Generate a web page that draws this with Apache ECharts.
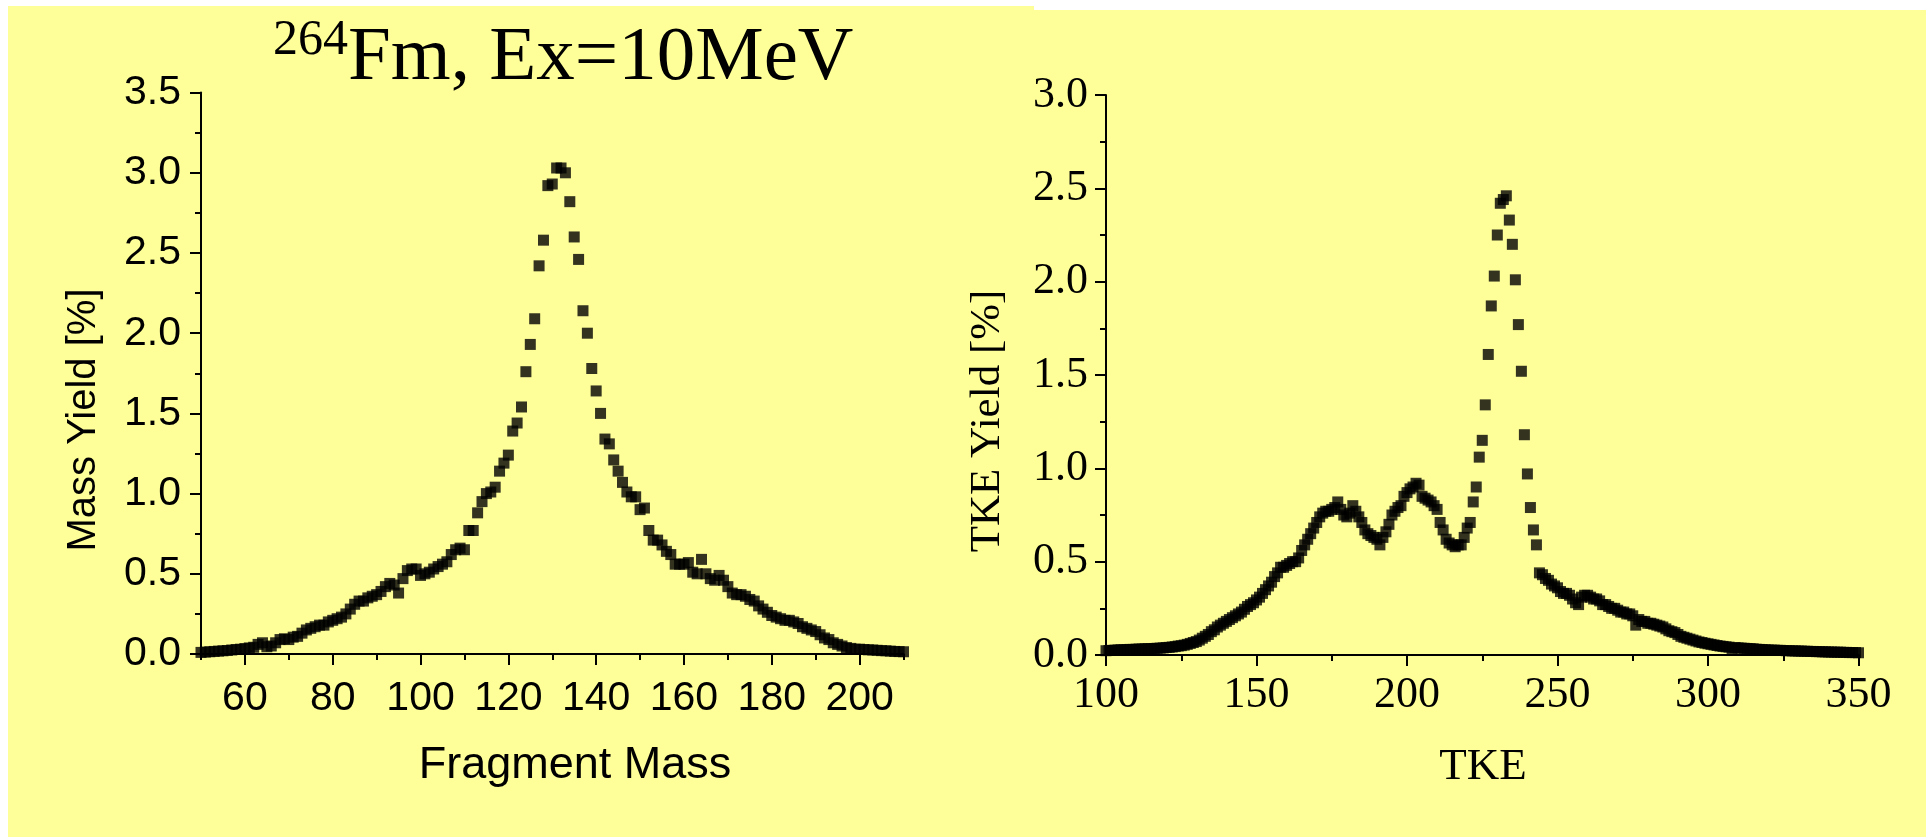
<!DOCTYPE html>
<html><head><meta charset="utf-8">
<script src="https://cdn.jsdelivr.net/npm/echarts@6/dist/echarts.min.js"></script>
<style>html,body{margin:0;padding:0;background:#fff}#c{width:1932px;height:840px}</style>
</head><body><div id="c"></div>
<script>
// ---- data ----
const massStart = 50; // fragment mass of first point, one point per mass unit
const massYield = [
 0.010,0.012,0.014,0.016,0.018,0.020,0.022,0.025,0.028,0.030,   // 50-59
 0.034,0.038,0.042,0.060,0.070,0.045,0.050,0.070,0.090,0.095,   // 60-69
 0.090,0.105,0.110,0.130,0.150,0.160,0.170,0.180,0.180,0.200,   // 70-79
 0.210,0.220,0.230,0.250,0.280,0.310,0.330,0.330,0.350,0.360,   // 80-89
 0.370,0.390,0.420,0.440,0.430,0.380,0.470,0.520,0.530,0.530,   // 90-99
 0.490,0.500,0.510,0.530,0.545,0.560,0.575,0.620,0.650,0.660,   // 100-109
 0.650,0.770,0.770,0.880,0.950,1.000,1.010,1.040,1.140,1.190,   // 110-119
 1.240,1.390,1.440,1.540,1.760,1.930,2.090,2.420,2.580,2.920,   // 120-129
 2.930,3.030,3.030,3.000,2.820,2.600,2.460,2.140,2.000,1.780,   // 130-139
 1.640,1.500,1.340,1.310,1.210,1.140,1.070,1.010,0.980,0.980,   // 140-149
 0.900,0.910,0.770,0.710,0.710,0.680,0.640,0.620,0.560,0.560,   // 150-159
 0.560,0.570,0.510,0.500,0.590,0.500,0.470,0.460,0.490,0.460,   // 160-169
 0.420,0.380,0.370,0.370,0.360,0.340,0.330,0.300,0.280,0.260,   // 170-179
 0.240,0.230,0.220,0.210,0.210,0.200,0.190,0.170,0.160,0.150,   // 180-189
 0.140,0.120,0.100,0.090,0.070,0.060,0.050,0.040,0.035,0.030,   // 190-199
 0.030,0.028,0.026,0.025,0.023,0.021,0.020,0.018,0.016,0.015,   // 200-209
 0.014                                                          // 210
];
const tkeStart = 100; // TKE of first point, one point per MeV
const tkeYield = [
 0.023,0.024,0.025,0.026,0.027,0.028,0.028,0.029,0.030,0.030,   // 100-109
 0.031,0.032,0.032,0.033,0.034,0.034,0.035,0.036,0.037,0.038,   // 110-119
 0.040,0.041,0.043,0.045,0.048,0.050,0.053,0.057,0.062,0.067,   // 120-129
 0.072,0.080,0.090,0.100,0.110,0.125,0.135,0.150,0.160,0.170,   // 130-139
 0.180,0.190,0.200,0.210,0.220,0.230,0.245,0.260,0.270,0.280,   // 140-149
 0.295,0.310,0.330,0.350,0.370,0.390,0.420,0.440,0.470,0.470,   // 150-159
 0.480,0.490,0.500,0.500,0.520,0.560,0.590,0.620,0.650,0.680,   // 160-169
 0.710,0.740,0.760,0.770,0.770,0.780,0.790,0.820,0.780,0.750,   // 170-179
 0.740,0.760,0.800,0.770,0.740,0.710,0.670,0.650,0.640,0.630,   // 180-189
 0.620,0.590,0.630,0.660,0.700,0.750,0.770,0.790,0.800,0.850,   // 190-199
 0.870,0.890,0.900,0.920,0.910,0.850,0.840,0.830,0.820,0.800,   // 200-209
 0.780,0.710,0.670,0.620,0.600,0.590,0.580,0.590,0.590,0.630,   // 210-219
 0.680,0.710,0.820,0.900,1.060,1.150,1.340,1.610,1.870,2.030,   // 220-229
 2.250,2.420,2.440,2.460,2.330,2.200,2.010,1.770,1.520,1.180,   // 230-239
 0.970,0.790,0.670,0.590,0.440,0.430,0.410,0.400,0.380,0.370,   // 240-249
 0.360,0.340,0.330,0.330,0.320,0.300,0.280,0.270,0.310,0.320,   // 250-259
 0.320,0.310,0.300,0.300,0.290,0.270,0.270,0.260,0.250,0.250,   // 260-269
 0.240,0.230,0.230,0.220,0.220,0.210,0.160,0.190,0.180,0.180,   // 270-279
 0.170,0.170,0.165,0.160,0.155,0.150,0.140,0.130,0.125,0.120,   // 280-289
 0.110,0.100,0.095,0.090,0.085,0.080,0.075,0.070,0.067,0.063,   // 290-299
 0.060,0.057,0.054,0.051,0.048,0.046,0.044,0.042,0.035,0.040,   // 300-309
 0.038,0.037,0.036,0.035,0.034,0.033,0.031,0.030,0.029,0.028,   // 310-319
 0.027,0.026,0.026,0.025,0.025,0.024,0.023,0.023,0.022,0.022,   // 320-329
 0.021,0.021,0.020,0.020,0.019,0.019,0.018,0.018,0.017,0.017,   // 330-339
 0.016,0.016,0.015,0.015,0.015,0.014,0.014,0.013,0.013,0.013,   // 340-349
 0.012                                                          // 350
];
const massLabelTicks = [60, 80, 100, 120, 140, 160, 180, 200];
const massMinorTicks = [50, 70, 90, 110, 130, 150, 170, 190, 210];
const titleSup = '264';
const titleMain = 'Fm, Ex=10MeV';
const massXTitle = 'Fragment Mass';
const massYTitle = 'Mass Yield [%]';
const tkeXTitle = 'TKE';
const tkeYTitle = 'TKE Yield [%]';

// ---- chart ----
const SANS = 'Liberation Sans';
const SERIF = 'Liberation Serif';
const line = {color: '#000', width: 2};
const chart = echarts.init(document.getElementById('c'), null, {renderer: 'canvas'});

const massData = massYield.map((v, i) => [massStart + i, v]);
const tkeData = tkeYield.map((v, i) => [tkeStart + i, v]);

chart.setOption({
  animation: false,
  backgroundColor: '#FFFF99',
  grid: [
    {left: 201, right: 1932 - 903.5, top: 92.6, bottom: 840 - 654},
    {left: 1106, right: 1932 - 1858.5, top: 95, bottom: 840 - 655}
  ],
  xAxis: [
    {gridIndex: 0, type: 'value', min: 50, max: 210, interval: 10,
     splitLine: {show: false},
     axisLine: {show: true, lineStyle: line},
     axisTick: {show: true, customValues: massLabelTicks, length: 11, lineStyle: line},
     axisLabel: {customValues: massLabelTicks, margin: 24, color: '#000', fontFamily: SANS, fontSize: 41}},
    {gridIndex: 0, type: 'value', min: 50, max: 210, position: 'bottom',
     splitLine: {show: false},
     axisLine: {show: false},
     axisTick: {show: true, customValues: massMinorTicks, length: 6, lineStyle: line},
     axisLabel: {show: false}},
    {gridIndex: 1, type: 'value', min: 100, max: 350, interval: 50,
     splitLine: {show: false},
     axisLine: {show: true, lineStyle: line},
     axisTick: {show: true, length: 11, lineStyle: line},
     minorTick: {show: true, splitNumber: 2, length: 6, lineStyle: line},
     axisLabel: {margin: 18, color: '#000', fontFamily: SERIF, fontSize: 44}}
  ],
  yAxis: [
    {gridIndex: 0, type: 'value', min: 0, max: 3.5, interval: 0.5,
     splitLine: {show: false},
     axisLine: {show: true, lineStyle: line},
     axisTick: {show: true, length: 11, lineStyle: line},
     minorTick: {show: true, splitNumber: 2, length: 6, lineStyle: line},
     axisLabel: {margin: 20, color: '#000', fontFamily: SANS, fontSize: 41,
                 formatter: v => v.toFixed(1)}},
    {gridIndex: 1, type: 'value', min: 0, max: 3, interval: 0.5,
     splitLine: {show: false},
     axisLine: {show: true, lineStyle: line},
     axisTick: {show: true, length: 11, lineStyle: line},
     minorTick: {show: true, splitNumber: 2, length: 6, lineStyle: line},
     axisLabel: {margin: 18, color: '#000', fontFamily: SERIF, fontSize: 44,
                 formatter: v => v.toFixed(1)}}
  ],
  series: [
    {type: 'scatter', xAxisIndex: 0, yAxisIndex: 0, symbol: 'rect', symbolSize: 11,
     itemStyle: {color: '#000'}, data: massData},
    {type: 'scatter', xAxisIndex: 2, yAxisIndex: 1, symbol: 'rect', symbolSize: 11,
     itemStyle: {color: '#000'}, data: tkeData}
  ],
  graphic: [
    // white page margins around the yellow slide area
    {type: 'rect', shape: {x: 0, y: 0, width: 1932, height: 6}, style: {fill: '#fff'}, silent: true},
    {type: 'rect', shape: {x: 1034, y: 0, width: 898, height: 10}, style: {fill: '#fff'}, silent: true},
    {type: 'rect', shape: {x: 0, y: 0, width: 8, height: 840}, style: {fill: '#fff'}, silent: true},
    {type: 'rect', shape: {x: 1926, y: 0, width: 6, height: 840}, style: {fill: '#fff'}, silent: true},
    {type: 'rect', shape: {x: 0, y: 837, width: 1932, height: 3}, style: {fill: '#fff'}, silent: true},
    // title
    {type: 'text', x: 348, y: 41, z: 100,
     style: {text: titleSup, fontFamily: SERIF, fontSize: 50, fill: '#000', align: 'right', verticalAlign: 'middle'}},
    {type: 'text', x: 348, y: 59, z: 100,
     style: {text: titleMain, fontFamily: SERIF, fontSize: 77, fill: '#000', align: 'left', verticalAlign: 'middle'}},
    // axis titles
    {type: 'text', x: 575, y: 766, z: 100,
     style: {text: massXTitle, fontFamily: SANS, fontSize: 45, fill: '#000', align: 'center', verticalAlign: 'middle'}},
    {type: 'text', x: 84, y: 420, rotation: Math.PI / 2, z: 100,
     style: {text: massYTitle, fontFamily: SANS, fontSize: 40, fill: '#000', align: 'center', verticalAlign: 'middle'}},
    {type: 'text', x: 1483, y: 767, z: 100,
     style: {text: tkeXTitle, fontFamily: SERIF, fontSize: 45, fill: '#000', align: 'center', verticalAlign: 'middle'}},
    {type: 'text', x: 988, y: 421, rotation: Math.PI / 2, z: 100,
     style: {text: tkeYTitle, fontFamily: SERIF, fontSize: 43, fill: '#000', align: 'center', verticalAlign: 'middle'}}
  ]
});
</script></body></html>
